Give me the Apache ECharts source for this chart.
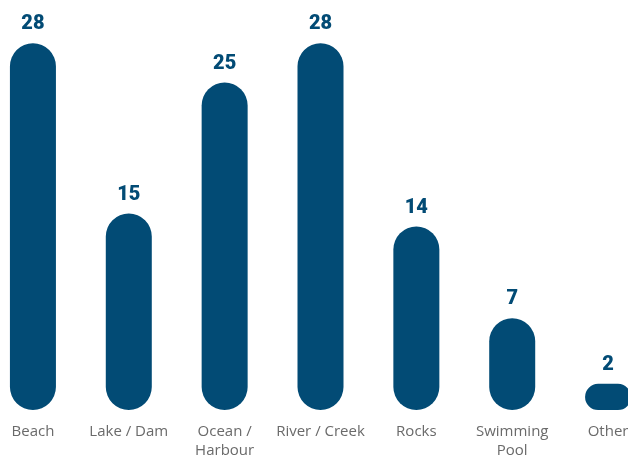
<!DOCTYPE html>
<html><head><meta charset="utf-8">
<script src="https://cdn.jsdelivr.net/npm/echarts@6/dist/echarts.min.js"></script>
<style>html,body{margin:0;padding:0;background:#fff;overflow:hidden}#c{width:671px;height:456px;margin-left:-15px}</style>
</head><body><div id="c"></div>
<script>
const categories = ['Beach', 'Lake / Dam', 'Ocean /\nHarbour', 'River / Creek', 'Rocks', 'Swimming\nPool', 'Other'];
const values = [28, 15, 25, 28, 14, 7, 2];
const chart = echarts.init(document.getElementById('c'));
chart.setOption({
  animation: false,
  grid: { left: 0, right: 0, top: 17, bottom: 46, containLabel: false, outerBoundsMode: 'none' },
  xAxis: {
    type: 'category', data: categories,
    axisLine: { show: false }, axisTick: { show: false },
    axisLabel: { color: '#6a6a6a', fontFamily: 'Open Sans', fontWeight: 400, fontSize: 15, lineHeight: 19, margin: 12, interval: 0 }
  },
  yAxis: { type: 'value', min: 0, max: 30, show: false, splitLine: { show: false } },
  series: [{
    type: 'bar', data: values, barWidth: 46,
    itemStyle: { color: '#024b75', borderRadius: 23 },
    label: { show: true, position: 'top', distance: 9, color: '#024b75', fontFamily: 'Roboto', fontWeight: 900, fontSize: 20 }
  }]
});
</script></body></html>
